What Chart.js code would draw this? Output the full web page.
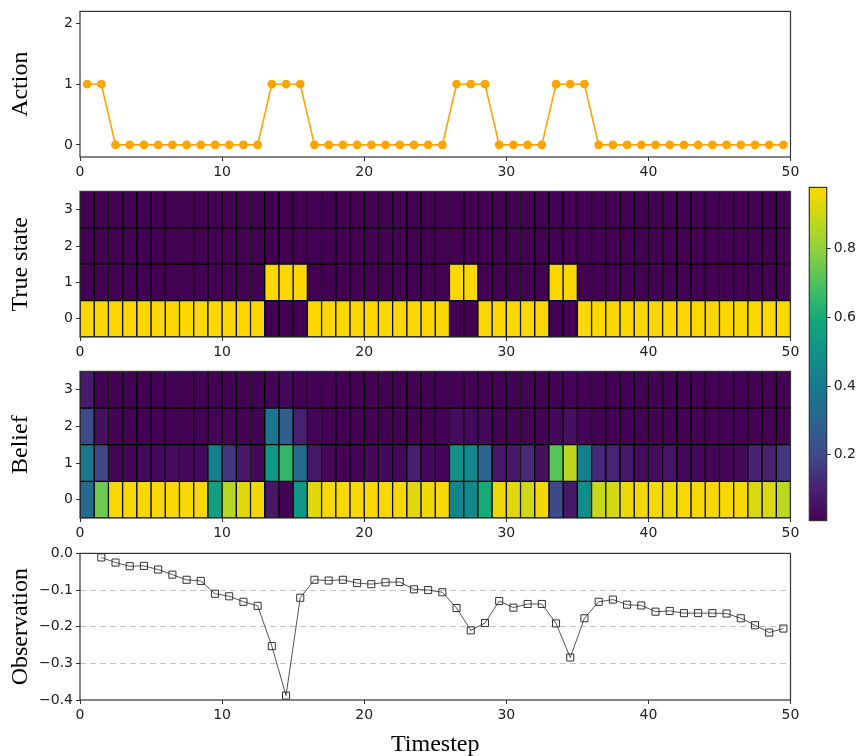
<!DOCTYPE html>
<html><head><meta charset="utf-8">
<script src="https://cdn.jsdelivr.net/npm/chart.js@4.4.0/dist/chart.umd.min.js"></script>
<style>
html,body{margin:0;padding:0;background:#fff;overflow:hidden;width:858px;height:756px;}
canvas{position:absolute;left:0;}
</style></head><body>
<canvas id="cAction" width="858" height="185" style="top:0px"></canvas>
<canvas id="cTrue" width="858" height="185" style="top:180px"></canvas>
<canvas id="cBelief" width="858" height="186" style="top:360px"></canvas>
<canvas id="cObs" width="858" height="218" style="top:542px"></canvas>
<canvas id="cBar" width="58" height="356" style="left:800px;top:176px"></canvas>
<script>
// ---------------- data ----------------
const actions = [1,1,0,0,0,0,0,0,0,0,0,0,0,1,1,1,0,0,0,0,0,0,0,0,0,0,1,1,1,0,0,0,0,1,1,1,0,0,0,0,0,0,0,0,0,0,0,0,0,0];
const trueStates = [0,0,0,0,0,0,0,0,0,0,0,0,0,1,1,1,0,0,0,0,0,0,0,0,0,0,1,1,0,0,0,0,0,1,1,0,0,0,0,0,0,0,0,0,0,0,0,0,0,0];
const belief0 = [0.33,0.75,0.97,0.97,0.97,0.97,0.97,0.97,0.97,0.55, 0.86,0.93,0.96,0.07,0.01,0.52,0.93,0.97,0.97,0.97, 0.97,0.97,0.97,0.93,0.96,0.97,0.44,0.45,0.60,0.95, 0.93,0.90,0.96,0.20,0.07,0.47,0.89,0.91,0.95,0.96, 0.96,0.95,0.97,0.97,0.97,0.97,0.97,0.92,0.92,0.87];
const belief1 = [0.38,0.19,0.02,0.02,0.03,0.03,0.04,0.03,0.03,0.42, 0.15,0.07,0.03,0.52,0.65,0.33,0.07,0.03,0.02,0.02, 0.03,0.03,0.03,0.09,0.03,0.02,0.48,0.45,0.30,0.07, 0.08,0.12,0.05,0.72,0.87,0.42,0.12,0.11,0.07,0.04, 0.04,0.06,0.03,0.03,0.02,0.02,0.03,0.10,0.10,0.15];
const belief2 = [0.20,0.05,0.01,0.01,0.01,0.01,0.01,0.01,0.01,0.02, 0.02,0.01,0.01,0.38,0.28,0.10,0.02,0.01,0.01,0.01, 0.01,0.01,0.01,0.01,0.01,0.01,0.04,0.03,0.03,0.01, 0.01,0.01,0.01,0.03,0.05,0.02,0.01,0.01,0.01,0.01, 0.01,0.01,0.01,0.01,0.01,0.01,0.01,0.01,0.01,0.01];
const belief3 = [0.08,0.01,0.01,0.01,0.01,0.01,0.01,0.01,0.01,0.01, 0.01,0.01,0.01,0.02,0.03,0.01,0.01,0.01,0.01,0.01, 0.01,0.01,0.01,0.01,0.01,0.01,0.01,0.01,0.01,0.01, 0.01,0.01,0.01,0.01,0.02,0.01,0.01,0.01,0.01,0.01, 0.01,0.01,0.01,0.01,0.01,0.01,0.01,0.01,0.01,0.01];
const observations = [-0.011,-0.025,-0.035,-0.034,-0.044,-0.058,-0.072,-0.075,-0.110,-0.117,-0.132,-0.143,-0.253,-0.388,-0.121,-0.072,-0.074,-0.072,-0.081,-0.084,-0.079,-0.078,-0.098,-0.100,-0.106,-0.149,-0.210,-0.190,-0.130,-0.148,-0.138,-0.138,-0.191,-0.284,-0.177,-0.132,-0.126,-0.140,-0.142,-0.159,-0.157,-0.163,-0.163,-0.163,-0.164,-0.177,-0.196,-0.216,-0.205];
const obsStart = 1.5;   // first observation timestep
const stateLabels = ['0','1','2','3'];
const xTicks = [0,10,20,30,40,50];
const actionTicks = [0,1,2];
const obsTicks = [-0.4,-0.3,-0.2,-0.1,0.0];
const cbarTicks = [0.2,0.4,0.6,0.8];
const cbarMin = 0.008, cbarMax = 0.979;

// ---------------- styling ----------------
const TICK_FONT = {family:'DejaVu Sans', size:14};
const TITLE_FONT = {family:'Liberation Serif', size:24};
const cmapStops = [[0.0,'#440154'],[0.1,'#482373'],[0.2,'#3e4a8a'],[0.3,'#2c648e'],[0.4,'#167a8e'],[0.5,'#11918a'],[0.6,'#13a77a'],[0.7,'#45bf62'],[0.8,'#86cf44'],[0.9,'#c3d81a'],[1.0,'#fdd800']];
function hex2rgb(h){return [parseInt(h.slice(1,3),16),parseInt(h.slice(3,5),16),parseInt(h.slice(5,7),16)];}
function cmap(t){
  t = Math.max(0, Math.min(1, t));
  for (let i=1;i<cmapStops.length;i++){
    if (t <= cmapStops[i][0]) {
      const [p0,c0] = cmapStops[i-1], [p1,c1] = cmapStops[i];
      const f = (t-p0)/(p1-p0), a = hex2rgb(c0), b = hex2rgb(c1);
      return 'rgb(' + a.map((v,k)=>Math.round(v+(b[k]-v)*f)).join(',') + ')';
    }
  }
  return cmapStops[cmapStops.length-1][1];
}

const frame = {
  id:'frame',
  afterDraw(chart){
    const a = chart.chartArea, c = chart.ctx;
    c.save(); c.strokeStyle = '#333'; c.lineWidth = 1.2;
    c.strokeRect(a.left, a.top, a.right-a.left, a.bottom-a.top);
    c.restore();
  }
};

function xAxis(extra){
  return Object.assign({
    type:'linear', min:0, max:50, offset:false,
    afterBuildTicks: s => { s.ticks = xTicks.map(v=>({value:v})); },
    ticks:{color:'#222', font:TICK_FONT, padding:3, maxRotation:0},
    grid:{offset:false, drawOnChartArea:false, drawTicks:true, tickLength:4, tickColor:'#333', color:'#333'},
    border:{display:false},
    afterFit: s => { s.height = 28; }
  }, extra||{});
}
function yTitle(text){
  return {display:true, text:text, font:TITLE_FONT, color:'#000', padding:{top:6,bottom:0}};
}
const common = {
  responsive:false, animation:false, devicePixelRatio:1,
  plugins:{legend:{display:false}, tooltip:{enabled:false}}
};

// ---------------- Action ----------------
new Chart(document.getElementById('cAction'), {
  type:'line',
  data:{datasets:[{
    data: actions.map((a,i)=>({x:i+0.5, y:a})),
    borderColor:'#FFA500', backgroundColor:'#FFA500',
    pointBackgroundColor:'#FFA500', pointBorderColor:'#FFA500',
    pointRadius:3.6, borderWidth:1.6, tension:0
  }]},
  options: Object.assign({}, common, {
    layout:{padding:{top:7, right:67.5, left:0, bottom:0}},
    scales:{
      x: xAxis(),
      y: {
        type:'linear', min:-0.2, max:2.2,
        afterBuildTicks: s => { s.ticks = actionTicks.map(v=>({value:v})); },
        ticks:{color:'#222', font:TICK_FONT, padding:3},
        grid:{drawOnChartArea:false, tickLength:4, tickColor:'#333', color:'#333'},
        border:{display:false},
        title: yTitle('Action'),
        afterFit: s => { s.width = 80; }
      }
    }
  }),
  plugins:[frame]
});

// ---------------- heatmaps ----------------
function heatChart(id, rows, title, colorOf){
  const datasets = rows.map((vals, r) => ({
    data: vals.map((v,i)=>({x:i+0.5, y:[r, r+1]})),
    backgroundColor: ctx => colorOf(vals[ctx.dataIndex]),
    borderColor:'#000', borderWidth:1, borderSkipped:false,
    barPercentage:1, categoryPercentage:1, grouped:false
  }));
  return new Chart(document.getElementById(id), {
    type:'bar',
    data:{datasets},
    options: Object.assign({}, common, {
      layout:{padding:{top:7.3, right:67.5, left:0, bottom:0}},
      scales:{
        x: xAxis(),
        y: {
          type:'linear', min:0, max:4,
          afterBuildTicks: s => { s.ticks = stateLabels.map((l,k)=>({value:k+0.5})); },
          ticks:{color:'#222', font:TICK_FONT, padding:3, callback:(v)=>stateLabels[Math.round(v-0.5)]},
          grid:{drawOnChartArea:false, tickLength:4, tickColor:'#333', color:'#333'},
          border:{display:false},
          title: yTitle(title),
          afterFit: s => { s.width = 80; }
        }
      }
    }),
    plugins:[frame]
  });
}
const trueRows = stateLabels.map((l,k) => trueStates.map(s => s===k ? 1 : 0));
heatChart('cTrue', trueRows, 'True state', v => cmap(v));
heatChart('cBelief', [belief0, belief1, belief2, belief3], 'Belief', v => cmap((v-cbarMin)/(cbarMax-cbarMin)));

// ---------------- Observation ----------------
new Chart(document.getElementById('cObs'), {
  type:'line',
  data:{datasets:[{
    data: observations.map((o,i)=>({x:obsStart+i, y:o})),
    borderColor:'#555', borderWidth:1, tension:0,
    pointStyle:'rect', pointRadius:5, pointBorderWidth:1,
    pointBorderColor:'#333', pointBackgroundColor:'rgba(0,0,0,0)'
  }]},
  options: Object.assign({}, common, {
    layout:{padding:{top:7, right:67.5, left:0, bottom:0}},
    scales:{
      x: xAxis({
        title:{display:true, text:'Timestep', font:TITLE_FONT, color:'#000', padding:{top:0,bottom:0.6}},
        afterFit: s => { s.height = 60; }
      }),
      y: {
        type:'linear', min:-0.4, max:0,
        afterBuildTicks: s => { s.ticks = obsTicks.map(v=>({value:v})); },
        ticks:{color:'#222', font:TICK_FONT, padding:3, callback:(v)=>{ const r=Math.round(v*10)/10; return (r<0?'\u2212':'')+Math.abs(r).toFixed(1); }},
        grid:{drawOnChartArea:true, tickLength:4, tickColor:'#333', lineWidth:1,
          color: ctx => { const v = ctx.tick ? ctx.tick.value : null; return (v!==null && v>-0.395 && v<-0.005) ? '#c4c4c4' : 'rgba(0,0,0,0)'; }},
        border:{display:false, dash:[6,4]},
        title: yTitle('Observation'),
        afterFit: s => { s.width = 80; }
      }
    }
  }),
  plugins:[frame]
});

// ---------------- colorbar ----------------
new Chart(document.getElementById('cBar'), {
  type:'bar',
  data:{labels:[''], datasets:[{
    data:[[cbarMin, cbarMax]],
    backgroundColor: ctx => {
      const ch = ctx.chart, a = ch.chartArea;
      if (!a) return '#440154';
      const g = ch.ctx.createLinearGradient(0, a.bottom, 0, a.top);
      cmapStops.forEach(([p,c]) => g.addColorStop(p,c));
      return g;
    },
    borderWidth:0, barPercentage:1, categoryPercentage:1
  }]},
  options: Object.assign({}, common, {
    layout:{padding:{left:9.3, top:10, bottom:11.3, right:0}},
    scales:{
      x:{display:false},
      y:{
        position:'right', type:'linear', min:cbarMin, max:cbarMax,
        afterBuildTicks: s => { s.ticks = cbarTicks.map(v=>({value:v})); },
        ticks:{color:'#222', font:TICK_FONT, padding:3, callback:v=>v.toFixed(1)},
        grid:{drawOnChartArea:false, tickLength:4, tickColor:'#333', color:'#333'},
        border:{display:false},
        afterFit: s => { s.width = 31.3; }
      }
    }
  }),
  plugins:[frame]
});
</script>
</body></html>
